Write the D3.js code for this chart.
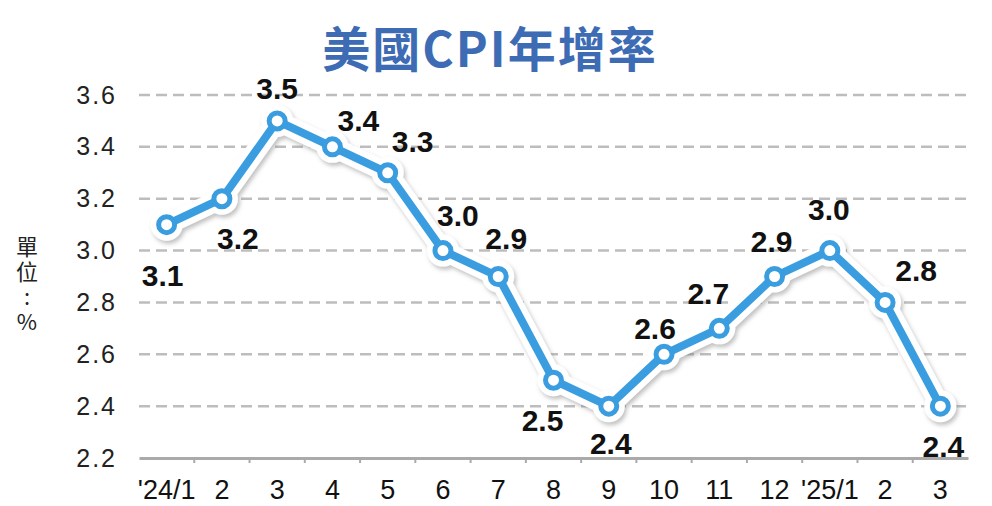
<!DOCTYPE html>
<html>
<head>
<meta charset="utf-8">
<script src="https://cdn.jsdelivr.net/npm/d3@7"></script>
<style>
  body { margin: 0; background: #fff; }
  svg { display: block; }
</style>
</head>
<body>
<div id="chart"></div>
<script>
// data
let months = ["'24/1", '2', '3', '4', '5', '6', '7', '8', '9', '10', '11', '12', "'25/1", '2 ', '3 '];
let cpi = [3.1, 3.2, 3.5, 3.4, 3.3, 3.0, 2.9, 2.5, 2.4, 2.6, 2.7, 2.9, 3.0, 2.8, 2.4];
let yTicks = [2.2, 2.4, 2.6, 2.8, 3.0, 3.2, 3.4, 3.6];

// where each value label sits relative to its point
let labelOffset = [
  [-4, 51], [16, 40], [0, -32], [26, -26], [25, -31], [15, -35], [8, -38],
  [-11, 40], [2, 37], [-9, -26], [-11, -35], [-3, -35], [-1, -41], [31, -32], [3, 40]
];

let width = 992;
let height = 506;
let blue = '#3a9de0';

let svg = d3.select('#chart')
  .append('svg')
  .attr('width', width)
  .attr('height', height);

let defs = svg.append('defs');
let shadow = defs.append('filter')
  .attr('id', 'shadow')
  .attr('x', '-10%').attr('y', '-10%')
  .attr('width', '120%').attr('height', '120%');
shadow.append('feDropShadow')
  .attr('dx', 2).attr('dy', 3)
  .attr('stdDeviation', 2)
  .attr('flood-color', '#777')
  .attr('flood-opacity', 0.45);

let x = d3.scaleBand()
  .domain(months)
  .range([139, 968]);

let y = d3.scaleLinear()
  .domain([2.2, 3.6])
  .range([458, 95]);

let cx = (d, i) => x(months[i]) + x.bandwidth() / 2;

// title
svg.append('text')
  .attr('x', 490)
  .attr('y', 67)
  .attr('text-anchor', 'middle')
  .style('font-family', '"Noto Sans CJK TC", "Liberation Sans", sans-serif')
  .style('font-weight', 'bold')
  .style('font-size', '48px')
  .style('letter-spacing', '2px')
  .style('fill', '#3d6cb4')
  .text('美國CPI年增率');

// unit label, written top to bottom
svg.append('text')
  .attr('x', 27)
  .attr('y', 236)
  .style('writing-mode', 'vertical-rl')
  .style('text-orientation', 'upright')
  .style('font-family', '"Noto Sans CJK TC", sans-serif')
  .style('font-size', '22px')
  .style('letter-spacing', '3px')
  .style('fill', '#222')
  .text('單位:%');

// gridlines
svg.append('g')
  .selectAll('line')
  .data(yTicks.filter(d => d > 2.2))
  .enter()
  .append('line')
  .attr('x1', 139)
  .attr('x2', 970)
  .attr('y1', d => y(d))
  .attr('y2', d => y(d))
  .attr('stroke', '#bdbdbd')
  .attr('stroke-width', 2.5)
  .attr('stroke-dasharray', '11 6');

// y axis labels
let yAxis = svg.append('g')
  .attr('transform', 'translate(139,0)')
  .call(d3.axisLeft(y).tickValues(yTicks).tickFormat(d3.format('.1f')).tickSize(0).tickPadding(22));
yAxis.select('.domain').remove();
yAxis.selectAll('text')
  .style('font-family', '"Liberation Sans", Arial, sans-serif')
  .style('font-size', '25px')
  .style('letter-spacing', '2px')
  .style('fill', '#222');

// x axis
let xAxis = svg.append('g')
  .attr('transform', 'translate(0,' + y(2.2) + ')')
  .call(d3.axisBottom(x).tickSize(0).tickPadding(22));
xAxis.select('.domain')
  .attr('stroke', '#aaa')
  .attr('stroke-width', 3);
xAxis.selectAll('text')
  .style('font-family', '"Liberation Sans Narrow", "Arial Narrow", sans-serif')
  .style('font-size', '27px')
  .style('fill', '#111')
  .text(d => d.trim());
// small ticks between months
xAxis.append('g')
  .selectAll('line')
  .data(months.slice(1))
  .enter()
  .append('line')
  .attr('x1', d => x(d))
  .attr('x2', d => x(d))
  .attr('y1', 0)
  .attr('y2', 5)
  .attr('stroke', '#aaa')
  .attr('stroke-width', 2);

// line with white halo and shadow
let line = d3.line()
  .x(cx)
  .y(d => y(d));

let halo = svg.append('g').attr('filter', 'url(#shadow)');
halo.append('path')
  .datum(cpi)
  .attr('d', line)
  .attr('fill', 'none')
  .attr('stroke', '#fff')
  .attr('stroke-width', 20)
  .attr('stroke-linejoin', 'round');
halo.selectAll('circle')
  .data(cpi)
  .enter()
  .append('circle')
  .attr('cx', cx)
  .attr('cy', d => y(d))
  .attr('r', 16)
  .attr('fill', '#fff');

svg.append('path')
  .datum(cpi)
  .attr('d', line)
  .attr('fill', 'none')
  .attr('stroke', blue)
  .attr('stroke-width', 8)
  .attr('stroke-linejoin', 'round');

svg.append('g')
  .selectAll('circle')
  .data(cpi)
  .enter()
  .append('circle')
  .attr('cx', cx)
  .attr('cy', d => y(d))
  .attr('r', 8)
  .attr('fill', '#fff')
  .attr('stroke', blue)
  .attr('stroke-width', 5);

// value labels
svg.append('g')
  .selectAll('text')
  .data(cpi)
  .enter()
  .append('text')
  .attr('x', (d, i) => cx(d, i) + labelOffset[i][0])
  .attr('y', (d, i) => y(d) + labelOffset[i][1])
  .attr('text-anchor', 'middle')
  .attr('dominant-baseline', 'central')
  .style('font-family', '"Liberation Sans", Arial, sans-serif')
  .style('font-weight', 'bold')
  .style('font-size', '30px')
  .style('fill', '#111')
  .text(d => d3.format('.1f')(d));
</script>
</body>
</html>
